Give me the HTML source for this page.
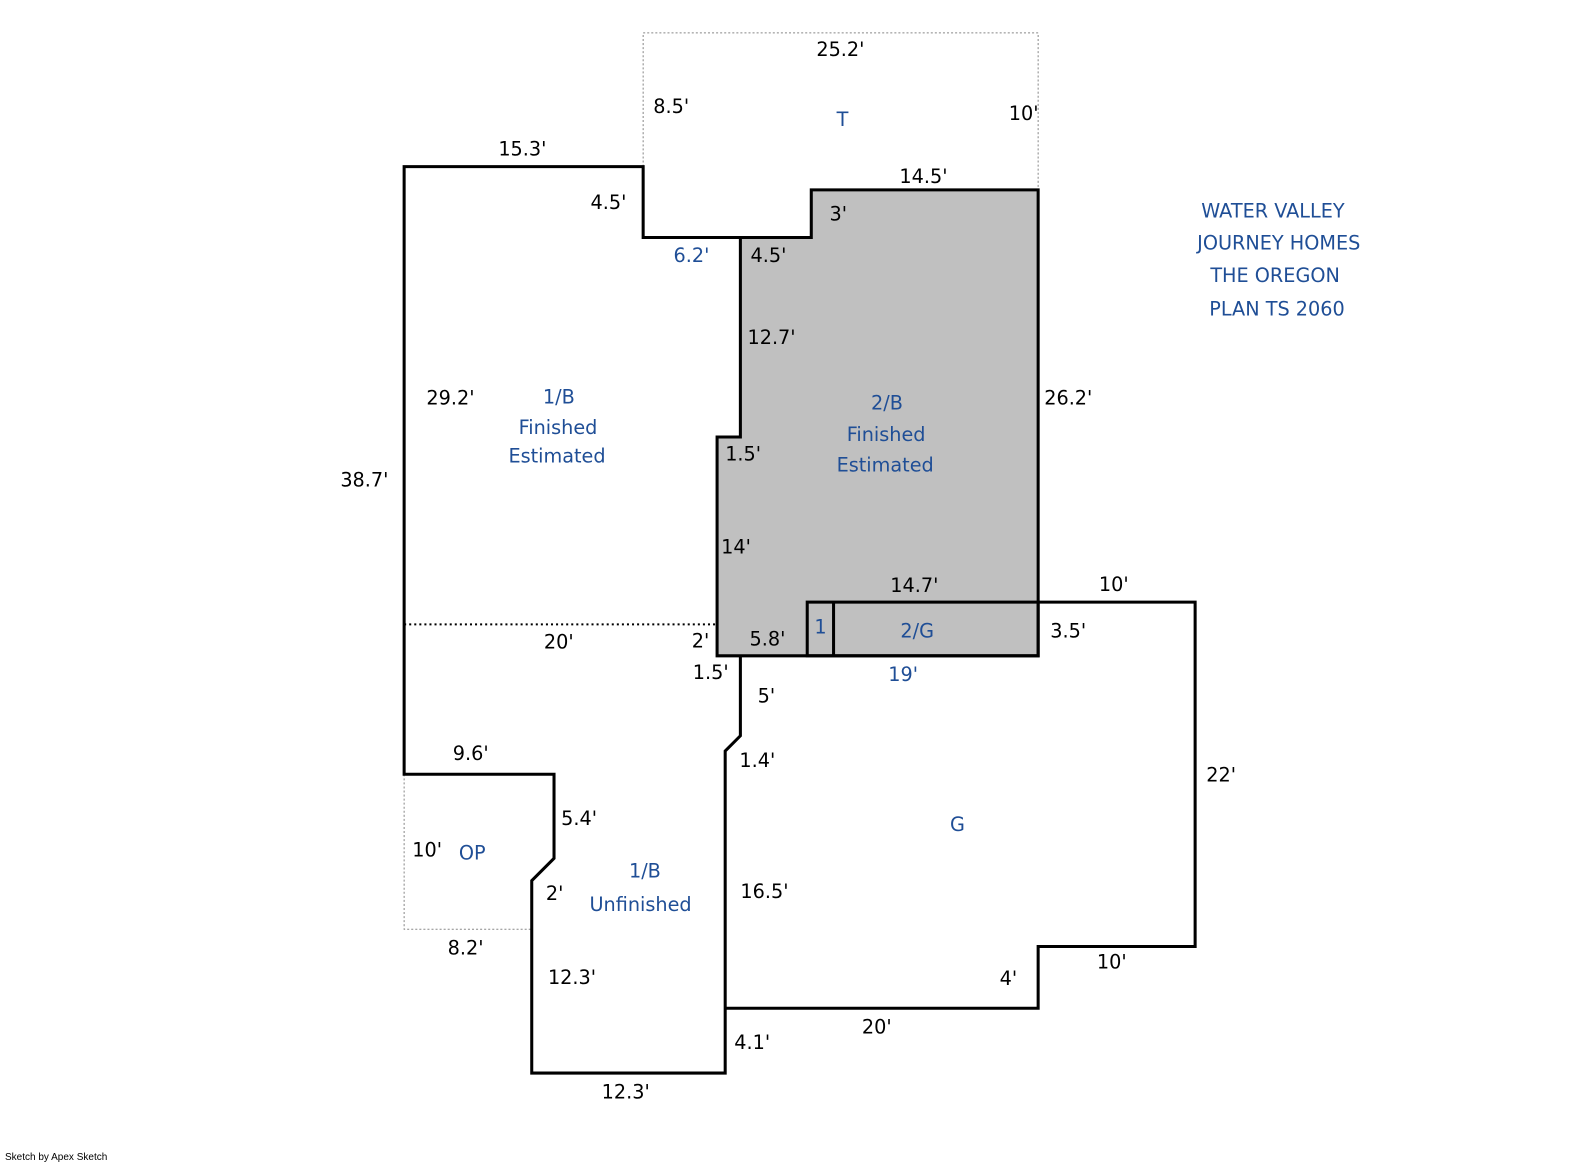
<!DOCTYPE html>
<html><head><meta charset="utf-8"><style>
html,body{margin:0;padding:0;background:#fff;}
svg{display:block;}
text{font-family:"DejaVu Sans","Liberation Sans",sans-serif;font-size:19px;fill:#000;}
.b{fill:#1f4e96;}
</style></head><body>
<svg width="1585" height="1163" viewBox="0 0 1585 1163" xmlns="http://www.w3.org/2000/svg">
<g transform="matrix(1.0128 0 0 1.0128 -2 -0.5)">
<polyline points="637,165 637,33 1027,33 1027,188" fill="none" stroke="#888" stroke-width="1" stroke-dasharray="2,2"/>
<polyline points="401,765 401,918 527,918" fill="none" stroke="#888" stroke-width="1" stroke-dasharray="2,2"/>
<line x1="401" y1="617" x2="710" y2="617" stroke="#000" stroke-width="2" stroke-dasharray="2,3"/>
<polygon points="803,188 1027,188 1027,648 710,648 710,432 733,432 733,235 803,235" fill="#c0c0c0" stroke="#000" stroke-width="3"/>
<polyline points="733,235 637,235 637,165 401,165 401,765 549,765 549,848 527,870 527,1060 718,1060 718,742 733,727 733,648" fill="none" stroke="#000" stroke-width="3"/>
<polyline points="1027,595 1182,595 1182,935 1027,935 1027,996 718,996" fill="none" stroke="#000" stroke-width="3"/>
<rect x="799" y="595" width="228" height="53" fill="none" stroke="#000" stroke-width="3"/>
<line x1="825" y1="595" x2="825" y2="648" stroke="#000" stroke-width="3"/>
<g>
<text x="808" y="56">25.2'</text>
<text x="647" y="112">8.5'</text>
<text x="998" y="119">10'</text>
<text x="494" y="154">15.3'</text>
<text x="890" y="181">14.5'</text>
<text x="585" y="207">4.5'</text>
<text x="821" y="218">3'</text>
<text x="743" y="259">4.5'</text>
<text x="740" y="340">12.7'</text>
<text x="1033" y="400">26.2'</text>
<text x="423" y="400">29.2'</text>
<text x="338" y="481">38.7'</text>
<text x="718" y="455">1.5'</text>
<text x="714" y="547">14'</text>
<text x="881" y="585">14.7'</text>
<text x="1087" y="584">10'</text>
<text x="539" y="641">20'</text>
<text x="685" y="640">2'</text>
<text x="742" y="638">5.8'</text>
<text x="1039" y="630">3.5'</text>
<text x="686" y="671">1.5'</text>
<text x="750" y="694">5'</text>
<text x="449" y="751">9.6'</text>
<text x="732" y="758">1.4'</text>
<text x="1193" y="772">22'</text>
<text x="556" y="815">5.4'</text>
<text x="409" y="846">10'</text>
<text x="541" y="889">2'</text>
<text x="733" y="887">16.5'</text>
<text x="444" y="943">8.2'</text>
<text x="1085" y="957">10'</text>
<text x="543" y="972">12.3'</text>
<text x="989" y="973">4'</text>
<text x="853" y="1021">20'</text>
<text x="727" y="1036">4.1'</text>
<text x="596" y="1085">12.3'</text>
</g>
<g class="b">
<text class="b" x="828" y="125">T</text>
<text class="b" x="667" y="259">6.2'</text>
<text class="b" x="538" y="399">1/B</text>
<text class="b" x="514" y="429">Finished</text>
<text class="b" x="504" y="457">Estimated</text>
<text class="b" x="862" y="405">2/B</text>
<text class="b" x="838" y="436">Finished</text>
<text class="b" x="828" y="466">Estimated</text>
<text class="b" x="806" y="626">1</text>
<text class="b" x="891" y="630">2/G</text>
<text class="b" x="879" y="673">19'</text>
<text class="b" x="940" y="821">G</text>
<text class="b" x="455" y="849">OP</text>
<text class="b" x="623" y="867">1/B</text>
<text class="b" x="584" y="900">Unfinished</text>
<text class="b" x="1188" y="215">WATER VALLEY</text>
<text class="b" x="1184" y="247">JOURNEY HOMES</text>
<text class="b" x="1197" y="279">THE OREGON</text>
<text class="b" x="1196" y="312">PLAN TS 2060</text>
</g>
</g>
<text x="5" y="1160" style="font-size:10px;font-family:'Liberation Sans',sans-serif">Sketch by Apex Sketch</text>
</svg>
</body></html>
